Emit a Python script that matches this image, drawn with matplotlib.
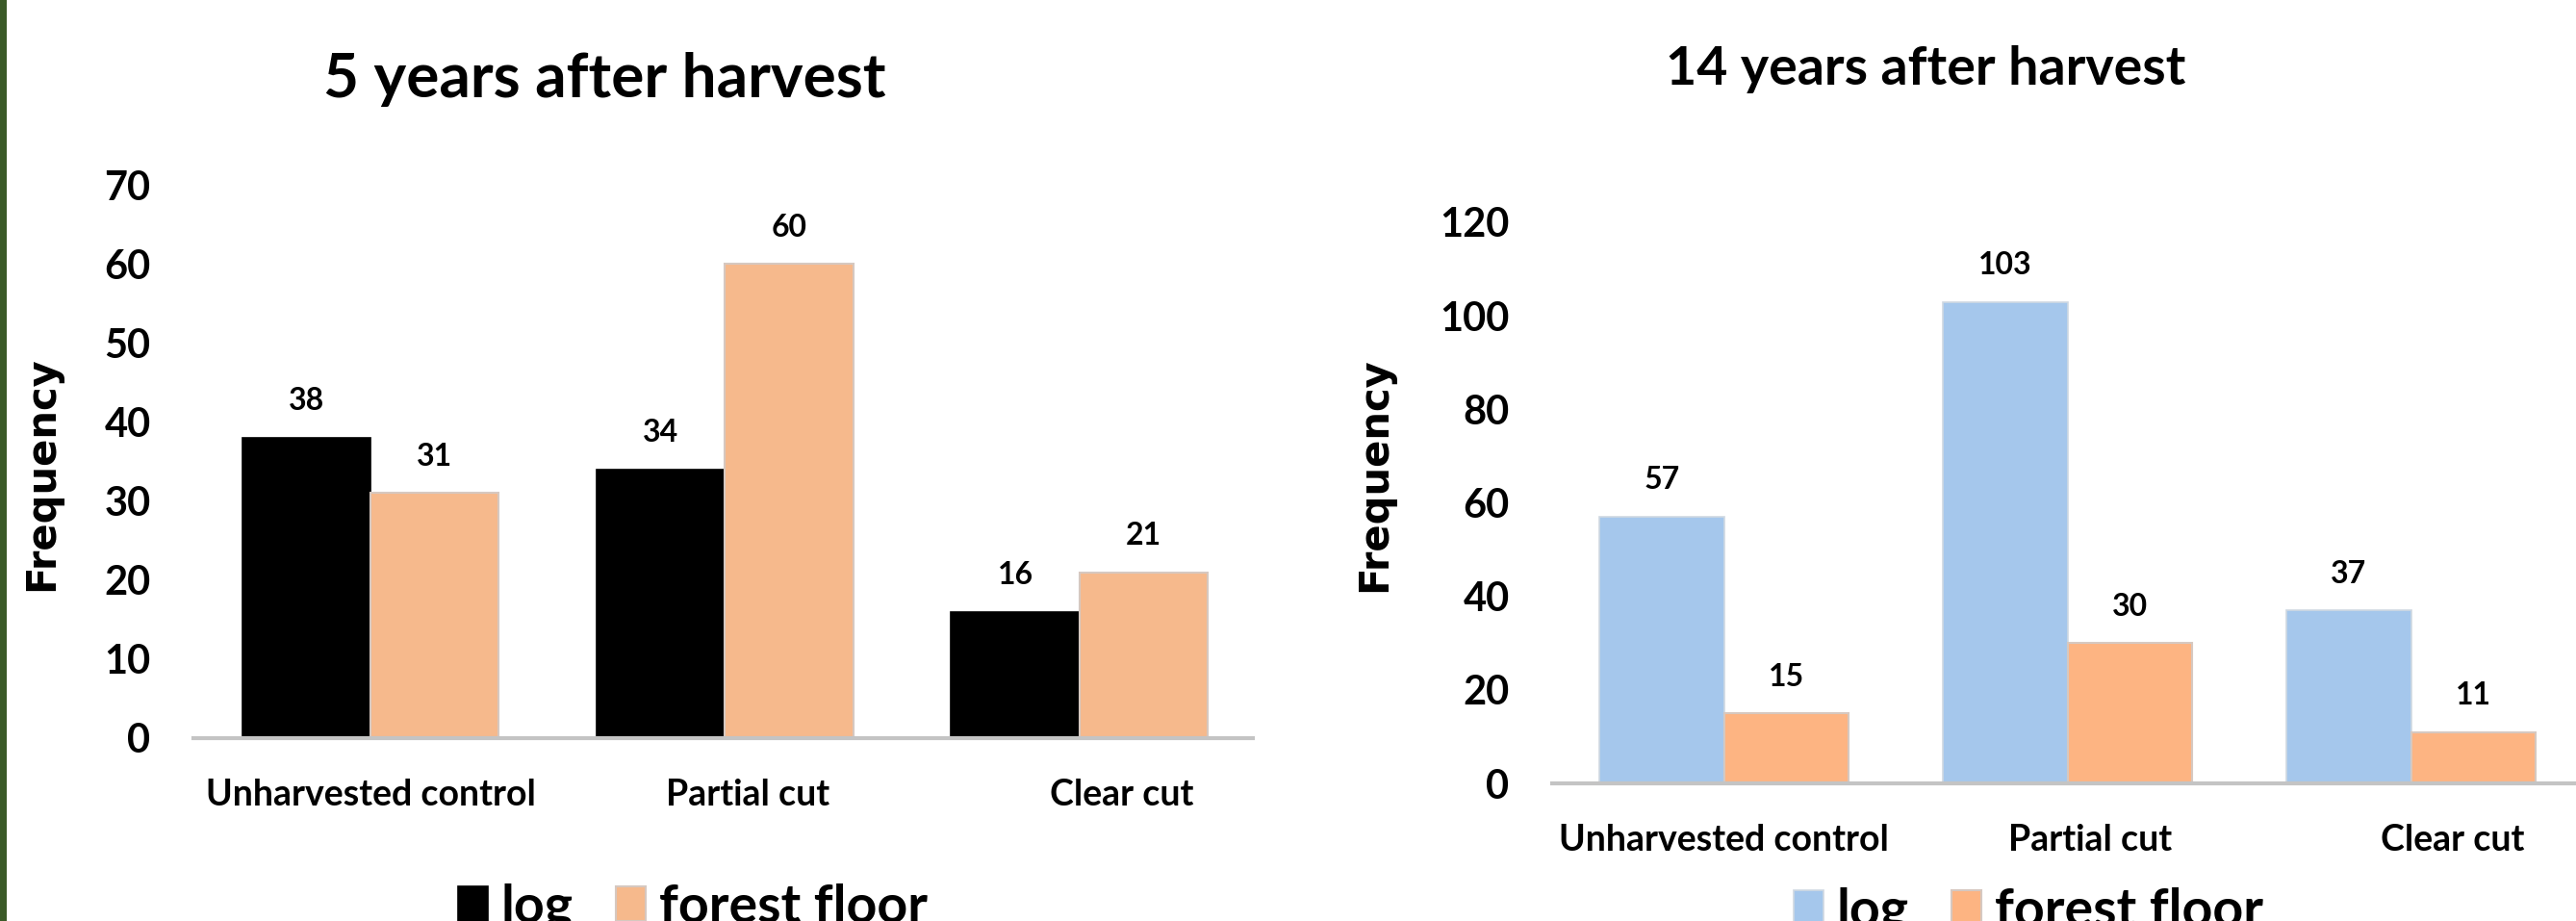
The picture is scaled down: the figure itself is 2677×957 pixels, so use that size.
import numpy as np
import matplotlib
matplotlib.use("Agg")
import matplotlib.pyplot as plt
from matplotlib.patches import Rectangle

# data
categories = ["Unharvested control", "Partial cut", "Clear cut"]
series_names = ["log", "forest floor"]
log_5yr = [38, 34, 16]
floor_5yr = [31, 60, 21]
log_14yr = [57, 103, 37]
floor_14yr = [15, 30, 11]
titles = ["5 years after harvest", "14 years after harvest"]
yticks_5yr = [0, 10, 20, 30, 40, 50, 60, 70]
yticks_14yr = [0, 20, 40, 60, 80, 100, 120]

plt.rcParams["font.family"] = ["Lato", "DejaVu Sans"]
plt.rcParams["font.weight"] = "bold"

W, H = 2677, 957
fig = plt.figure(figsize=(W / 100, H / 100), dpi=100)
fig.patch.set_facecolor("white")

# dark green strip on the left edge
fig.patches.append(Rectangle((0, 0), 7 / W, 1, transform=fig.transFigure,
                             facecolor="#3b5a27", edgecolor="none"))


def px_axes(x0, x1, ytop, ybot):
    return fig.add_axes([x0 / W, (H - ybot) / H, (x1 - x0) / W, (ybot - ytop) / H])


def draw_panel(ax, logs, floors, colors, yticks, ymax, title, title_xy, title_size,
               ylabel_x, ylabel_y, legend_xy, right_lim):
    x = np.arange(len(categories))
    w = 0.362
    b1 = ax.bar(x - w / 2, logs, w, color=colors[0], label=series_names[0],
                edgecolor=colors[2], linewidth=1.2)
    b2 = ax.bar(x + w / 2, floors, w, color=colors[1], label=series_names[1],
                edgecolor="#d6c8c0", linewidth=1.5)
    ax.bar_label(b1, padding=17, fontsize=23, fontweight="bold")
    ax.bar_label(b2, padding=17, fontsize=23, fontweight="bold")

    ax.set_xlim(-0.5, right_lim)
    ax.set_ylim(0, ymax)
    ax.set_yticks(yticks)
    ax.tick_params(axis="y", length=0, pad=32, labelsize=30)
    # category labels sit a little right of the bar groups in the original
    ax.set_xticks(x + np.array([0.0, 0.065, 0.12]))
    ax.set_xticklabels(categories)
    ax.tick_params(axis="x", length=0, pad=30, labelsize=27)

    for s in ["left", "top", "right"]:
        ax.spines[s].set_visible(False)
    ax.spines["bottom"].set_color("#c4c4c4")
    ax.spines["bottom"].set_linewidth(3)

    ax.set_ylabel("Frequency", family=["DejaVu Sans"], fontsize=30, fontweight="bold")
    ax.yaxis.set_label_coords(ylabel_x, ylabel_y)

    fig.text(title_xy[0] / W, (H - title_xy[1]) / H, title, ha="center", va="baseline",
             fontsize=title_size, fontweight="bold")

    # legend is partly cut by the bottom edge, as in the original
    ax.legend(loc="upper center", bbox_to_anchor=(legend_xy[0] / W, (H - legend_xy[1]) / H),
              bbox_transform=fig.transFigure, ncol=2, frameon=False, fontsize=40,
              handlelength=0.55, handleheight=0.62, handletextpad=0.25,
              columnspacing=0.8, borderpad=0)


ax1 = px_axes(201, 1302, 192, 767)
draw_panel(ax1, log_5yr, floor_5yr, ["#000000", "#f6b98c", "#000000"], yticks_5yr, 70,
           titles[0], (628, 101), 46, -0.124, 0.478, (720, 890), 2.49)

ax2 = px_axes(1613, 2677, 231, 814)
draw_panel(ax2, log_14yr, floor_14yr, ["#a5c7ec", "#fdb482", "#cfd8e2"], yticks_14yr, 120,
           titles[1], (2001, 88), 40, -0.154, 0.551, (2108, 894), 2.48)

fig.savefig("out.png", dpi=100)
